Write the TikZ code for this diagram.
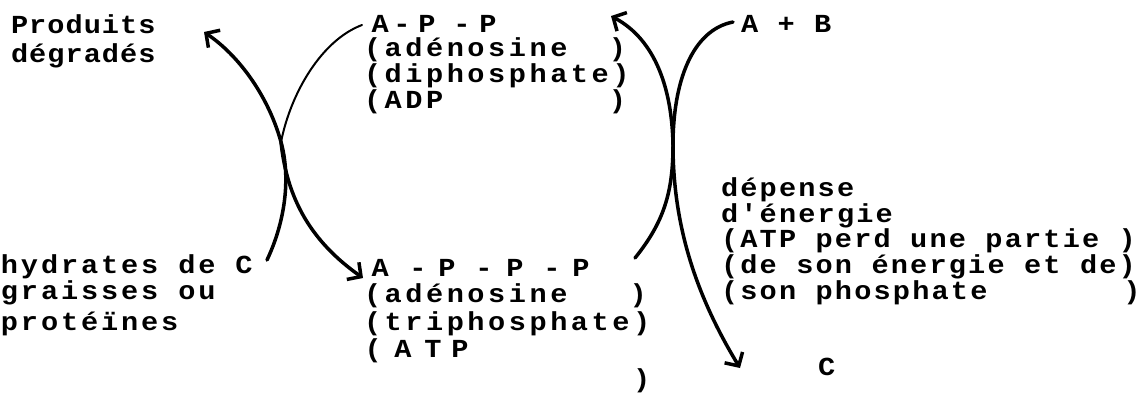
\documentclass[tikz,border=0pt]{standalone}
\usepackage{fontspec}
\usetikzlibrary{arrows.meta}
\newfontfamily\twL{Liberation Mono}[FakeStretch=1.1, LetterSpace=4]
\newfontfamily\twB{Liberation Mono}[FakeStretch=1.1, LetterSpace=11]
\newfontfamily\twM{Liberation Mono}[FakeStretch=1.1, LetterSpace=13.6]
\newfontfamily\twR{Liberation Mono}[FakeStretch=1.1, LetterSpace=8.4]
\newlength\pitch
\newcommand\blk{\hspace{\pitch}}
\newcommand\putc[2]{\rlap{\hspace{#1}#2}}
\tikzset{
  txt/.style={anchor=base west, inner sep=0pt, outer sep=0pt},
  tl/.style={txt, font=\twL\bfseries\fontsize{26pt}{26pt}\selectfont\setlength\pitch{18.2pt}},
  tb/.style={txt, font=\twB\bfseries\fontsize{26pt}{26pt}\selectfont\setlength\pitch{20pt}},
  tm/.style={txt, font=\twM\bfseries\fontsize{26pt}{26pt}\selectfont\setlength\pitch{20.7pt}},
  tr/.style={txt, font=\twR\bfseries\fontsize{26pt}{26pt}\selectfont\setlength\pitch{19.4pt}},
  curve/.style={line width=3.5pt, line cap=round, line join=round},
  thin/.style={line width=2pt, line cap=round},
  tip/.style={-{Straight Barb[length=10pt,width=21pt]}}
}
\begin{document}
\begin{tikzpicture}[x=1pt,y=-1pt]
\useasboundingbox[fill=white] (0,0) rectangle (1148,392);
% left texts
\node[tl] (prod) at (11,33) {Produits};
\node[tl] (degr) at (11,62) {dégradés};
\node[tb] (hyd) at (1,273) {hydrates\blk de\blk C};
\node[tb] (grai) at (1,299) {graisses\blk ou};
\node[tb] (prot) at (1,330) {protéïnes};
% middle top (ADP)
\node[tm] (adpA) at (371,32) {\putc{0pt}{A}\putc{22pt}{-}\putc{47pt}{P}\putc{82pt}{-}\putc{108pt}{P}\hspace{127pt}};
\node[tm] (adpB) at (364,56) {(adénosine\blk\blk)};
\node[tm] (adpC) at (364,82) {(diphosphate)};
\node[tm] (adpD) at (364,108) {(ADP\blk\blk\blk\blk\blk\blk\blk\blk)};
% middle bottom (ATP)
\node[tm] (atpA) at (371,276) {\putc{0pt}{A}\putc{38pt}{-}\putc{67pt}{P}\putc{104pt}{-}\putc{135pt}{P}\putc{172pt}{-}\putc{201pt}{P}\hspace{220pt}};
\node[tm] (atpB) at (364,302) {(adénosine\blk\blk\blk)};
\node[tm] (atpC) at (364,330) {(triphosphate)};
\node[tm] (atpD) at (364,357) {\putc{0pt}{(}\putc{30pt}{A}\putc{60pt}{T}\putc{87pt}{P}\hspace{110pt}};
\node[tm] (atpE) at (364,387) {\blk\blk\blk\blk\blk\blk\blk\blk\blk\blk\blk\blk\blk)};
% right texts
\node[tr] (ab) at (741,32) {A\blk+\blk B};
\node[tr] (depA) at (721,196) {dépense};
\node[tr] (depB) at (721,222) {d'énergie};
\node[tr] (depC) at (721,247) {(ATP\blk perd\blk une\blk partie\blk)};
\node[tr] (depD) at (721,273) {(de\blk son\blk énergie\blk et\blk de)};
\node[tr] (depE) at (721,299) {(son\blk phosphate\blk\blk\blk\blk\blk\blk\blk)};
\node[tr] (cc) at (721,375) {\blk\blk\blk\blk\blk C};
% connector end points
\coordinate (hydE) at (267,260);
\coordinate (prodE) at (204,32);
\coordinate (adpE) at (362,25);
\coordinate (atpE) at (363,278);
\coordinate (atpR) at (635,258);
\coordinate (adpR) at (611,16);
\coordinate (abE) at (733,22);
\coordinate (ccE) at (740,368);
\coordinate (xL) at (281,142);
\coordinate (xR) at (673,145);
% left crossing curves
\draw[curve,tip] (hydE) .. controls (285,222) and (291,178) .. (xL) .. controls (268,95) and (238,55) .. (prodE);
\draw[thin] (adpE) .. controls (322,40) and (291,92) .. (xL);
\draw[curve,tip] (xL) .. controls (287,200) and (312,242) .. (atpE);
% right crossing curves
\draw[curve,tip] (atpR) .. controls (664,222) and (673,192) .. (xR) .. controls (672,90) and (656,40) .. (adpR);
\draw[curve] (abE) .. controls (692,30) and (673,82) .. (xR);
\draw[curve,tip] (xR) .. controls (673,232) and (700,302) .. (ccE);
\end{tikzpicture}
\end{document}
